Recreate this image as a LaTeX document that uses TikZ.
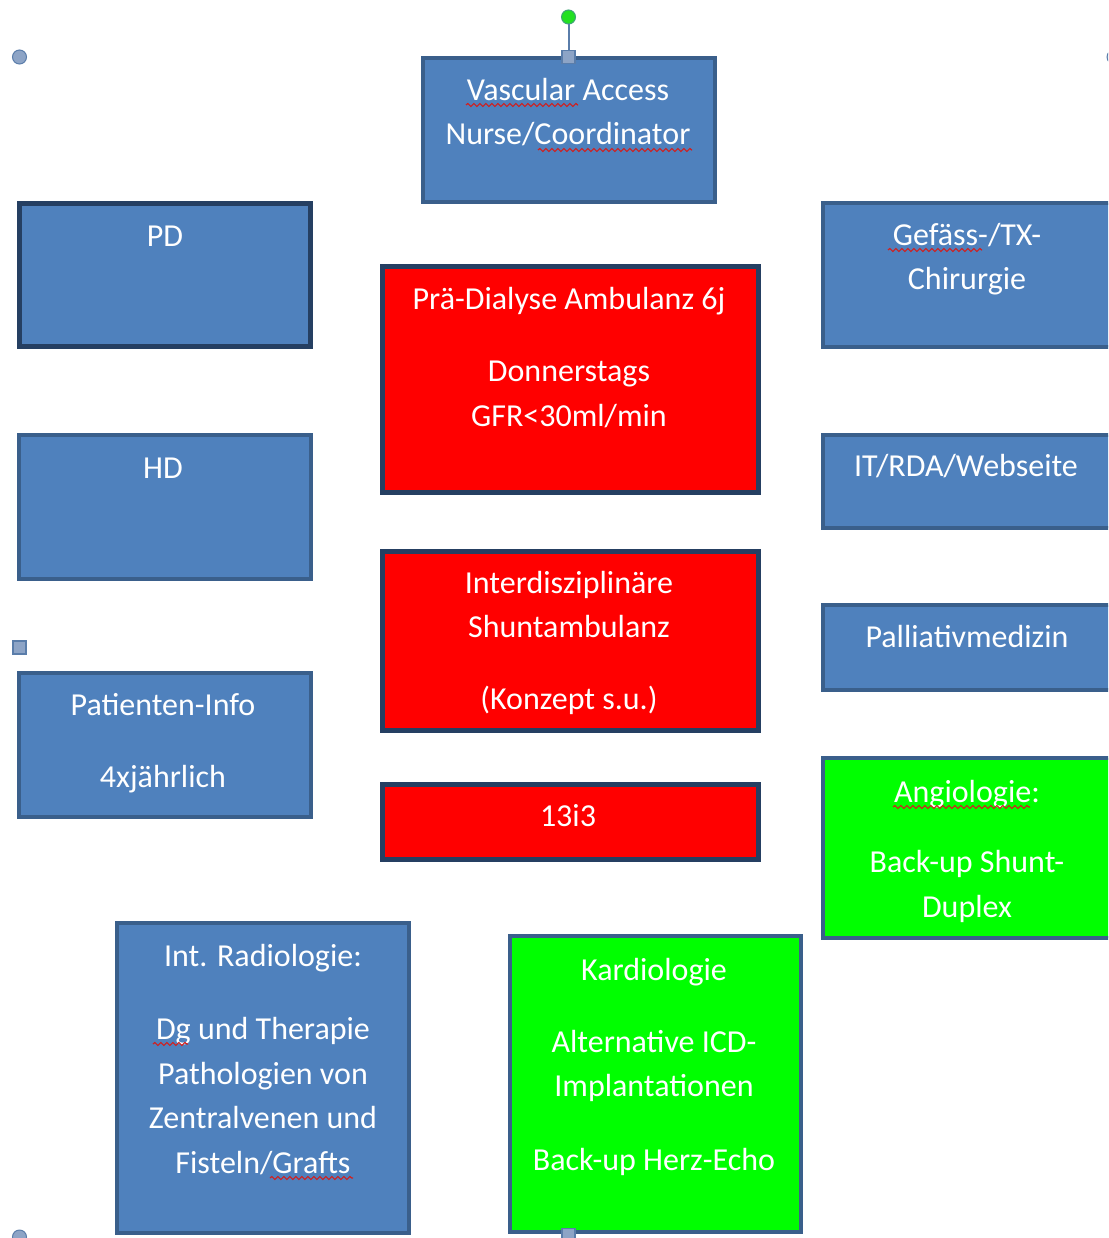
\documentclass[tikz,border=0pt]{standalone}
\usepackage{fontspec}
\setmainfont{Carlito}
\usetikzlibrary{decorations.pathmorphing}
\definecolor{bluef}{HTML}{4F81BD}
\definecolor{bluebd}{HTML}{3A5F8B}
\definecolor{darkbd}{HTML}{253F62}
\definecolor{redf}{HTML}{FF0000}
\definecolor{greenf}{HTML}{00FF00}
\definecolor{handlef}{HTML}{8DA4C6}
\definecolor{handlebd}{HTML}{5A7DAA}
\definecolor{rotf}{HTML}{22E022}
\definecolor{squigc}{HTML}{D02020}
\begin{document}
\begin{tikzpicture}[x=1pt,y=-1pt,
  box/.style={draw=bluebd, fill=bluef, line width=4pt, inner sep=0pt, outer sep=0pt},
  darkbox/.style={box, draw=darkbd, line width=5pt},
  redbox/.style={darkbox, fill=redf},
  greenbox/.style={box, fill=greenf},
  txt/.style={text=white, align=center, inner sep=0pt, anchor=base,
    font=\fontsize{32}{44.5}\selectfont},
  squig/.style={draw=squigc, line width=1.2pt, decorate,
    decoration={snake, segment length=6pt, amplitude=1.5pt}},
  hsq/.style={draw=handlebd, fill=handlef, line width=1.5pt, rectangle,
    minimum size=13pt, inner sep=0pt},
  hcirc/.style={draw=handlebd, fill=handlef, line width=1pt, circle,
    minimum size=14pt, inner sep=0pt},
  hrot/.style={draw=handlebd!70!green, fill=rotf, line width=1pt, circle,
    minimum size=14pt, inner sep=0pt}]
\useasboundingbox (0,0) rectangle (1108,1238);
\clip (0,0) rectangle (1108,1238);
\fill[white] (0,0) rectangle (1108,1238);

% boxes
\node[box, minimum width=292pt, minimum height=144pt] (vac) at (569,130) {};
\node[darkbox, minimum width=291pt, minimum height=143pt] (pd) at (165,275) {};
\node[redbox, minimum width=376pt, minimum height=226pt] (pre) at (570.5,379.5) {};
\node[box, minimum width=292pt, minimum height=144pt] (gef) at (969,275) {};
\node[box, minimum width=292pt, minimum height=144pt] (hd) at (165,507) {};
\node[box, minimum width=292pt, minimum height=93pt] (it) at (969,481.5) {};
\node[redbox, minimum width=376pt, minimum height=179pt] (inter) at (570.5,641) {};
\node[box, minimum width=292pt, minimum height=85pt] (pall) at (969,647.5) {};
\node[box, minimum width=292pt, minimum height=144pt] (pat) at (165,745) {};
\node[redbox, minimum width=376pt, minimum height=75pt] (i13) at (570.5,822) {};
\node[greenbox, minimum width=292pt, minimum height=180pt] (ang) at (969,848) {};
\node[box, minimum width=292pt, minimum height=310pt] (rad) at (263,1078) {};
\node[greenbox, minimum width=291pt, minimum height=296pt] (kar) at (655.5,1084) {};

% texts (anchor = baseline of the last line)
\node[txt] (vac-t) at (568,145) {Vascular Access\\Nurse/Coordinator};
\node[txt] (pd-t) at (165,247) {PD};
\node[txt] (pre-t) at (569,426) {Prä-Dialyse Ambulanz 6j\\[28pt]Donnerstags\\GFR<30ml/min};
\node[txt] (gef-t) at (967,290) {Gefäss-/TX-\\Chirurgie};
\node[txt] (hd-t) at (163,478) {HD};
\node[txt] (it-t) at (966,476) {IT/RDA/Webseite};
\node[txt] (inter-t) at (569,709) {Interdisziplinäre\\Shuntambulanz\\[27pt](Konzept s.u.)};
\node[txt] (pall-t) at (967,647) {Palliativmedizin};
\node[txt] (pat-t) at (163,787) {Patienten-Info\\[27pt]4xjährlich};
\node[txt] (i13-t) at (568,826) {13i3};
\node[txt] (ang-t) at (967,917) {Angiologie:\\[26pt]Back-up Shunt-\\Duplex};
\node[txt] (rad-t) at (263,1173) {Int. Radiologie:\\[29pt]Dg und Therapie\\Pathologien von\\Zentralvenen und\\Fisteln/Grafts};
\node[txt] (kar-t) at (654,1170) {Kardiologie\\[27pt]Alternative ICD-\\Implantationen\\[29pt]Back-up Herz-Echo};

% spell-check squiggles
\draw[squig] (466,105) -- (578,105);
\draw[squig] (538,150) -- (692,150);
\draw[squig] (888,250) -- (982,250);
\draw[squig] (893,807) -- (1030,807);
\draw[squig] (153,1044) -- (188,1044);
\draw[squig] (270,1178) -- (353,1178);

% selection handles
\node[hrot] (rot) at (568.5,17) {};
\node[hsq] (topmid) at (568.5,57) {};
\draw[handlebd, line width=2pt] (rot) -- (topmid);
\node[hcirc] (tl) at (19.5,57) {};
\node[hcirc] (tr) at (1114,57) {};
\node[hsq] (lm) at (19.5,647.5) {};
\node[hcirc] (bl) at (19.5,1237) {};
\node[hsq] (bm) at (568.5,1235) {};
\end{tikzpicture}
\end{document}
